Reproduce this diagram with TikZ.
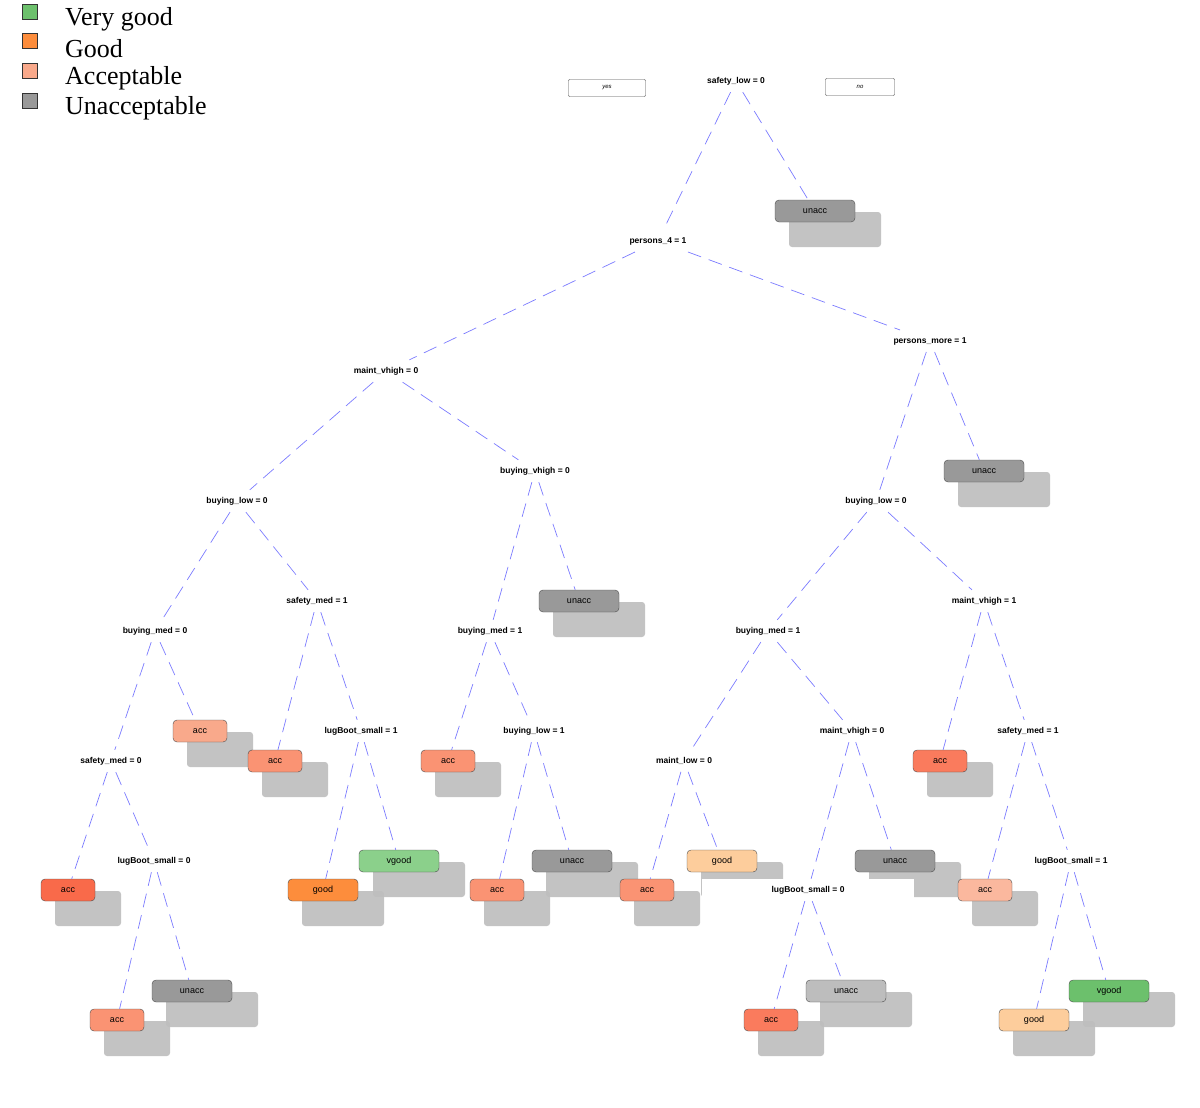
\documentclass[tikz,border=0pt]{standalone}
\usepackage{fontspec}
\setsansfont{Liberation Sans}
\setmainfont{Liberation Serif}
\definecolor{edgec}{HTML}{7B7BFF}
\definecolor{shad}{HTML}{BDBDBD}
\definecolor{cacc}{HTML}{FA9373}
\definecolor{caccl}{HTML}{F9A98B}
\definecolor{caccd}{HTML}{F96A4A}
\definecolor{caccm}{HTML}{FA7B5D}
\definecolor{caccp}{HTML}{FBB89E}
\definecolor{cun}{HTML}{999999}
\definecolor{cunl}{HTML}{BDBDBD}
\definecolor{cgood}{HTML}{FD8D3C}
\definecolor{cgoodl}{HTML}{FDCD9C}
\definecolor{cvg}{HTML}{8BD08B}
\definecolor{cvgd}{HTML}{6CC06C}
\tikzset{
 split/.style={font=\sffamily\bfseries\fontsize{8.5}{10}\selectfont, inner sep=7pt, fill=white},
 leafbox/.style={draw=black!70, rounded corners=4pt, minimum height=22pt, font=\sffamily\fontsize{9}{10}\selectfont, inner sep=0pt},
 edge/.style={draw=edgec, dash pattern=on 14pt off 8pt, line width=0.7pt},
 legsq/.style={draw=black!80, line width=1pt, minimum size=15pt, inner sep=0pt},
 legtx/.style={font=\fontsize{26}{28}\selectfont, anchor=west, inner sep=0pt}
}
\newcommand\leaf[6]{% name x y text color width
 \fill[shad, opacity=0.9, rounded corners=3pt] (#2-#6/2+14,#3+1) rectangle (#2+#6/2+26,#3+36);
 \node[leafbox, fill=#5, minimum width=#6pt] (#1) at (#2,#3) {#4};}
\begin{document}
\begin{tikzpicture}[x=1pt,y=-1pt]
\useasboundingbox (0,0) rectangle (1200,1108);
% legend
\node[legsq, fill=cvgd] (l1) at (30,12) {}; \node[legtx] (t1) at (65,19) {Very good};
\node[legsq, fill=cgood] (l2) at (30,41) {}; \node[legtx] (t2) at (65,49) {Good};
\node[legsq, fill=caccl] (l3) at (30,71) {}; \node[legtx] (t3) at (65,78) {Acceptable};
\node[legsq, fill=cun] (l4) at (30,101) {}; \node[legtx] (t4) at (65,108) {Unacceptable};
% yes / no
\node[draw=black!70, rounded corners=1pt, minimum width=77pt, minimum height=17pt, font=\sffamily\itshape\fontsize{6}{7}\selectfont] (yes) at (607,88) {yes};
\node[draw=black!70, rounded corners=1pt, minimum width=69pt, minimum height=17pt, font=\sffamily\itshape\fontsize{6}{7}\selectfont] (no) at (860,87) {no};
% leaves (with shadows)
\leaf{u1}{815}{211}{unacc}{cun}{80}
\leaf{u2}{984}{471}{unacc}{cun}{80}
\leaf{u3}{579}{601}{unacc}{cun}{80}
\leaf{a1}{200}{731}{acc}{caccl}{54}
\leaf{a2}{275}{761}{acc}{cacc}{54}
\leaf{a3}{448}{761}{acc}{cacc}{54}
\leaf{a4}{940}{761}{acc}{caccm}{54}
\leaf{v1}{399}{861}{vgood}{cvg}{80}
\leaf{u4}{572}{861}{unacc}{cun}{80}
\leaf{g1}{722}{861}{good}{cgoodl}{70}
\leaf{u5}{895}{861}{unacc}{cun}{80}
\leaf{a5}{68}{890}{acc}{caccd}{54}
\leaf{g2}{323}{890}{good}{cgood}{70}
\leaf{a6}{497}{890}{acc}{cacc}{54}
\leaf{a7}{647}{890}{acc}{cacc}{54}
\leaf{a8}{985}{890}{acc}{caccp}{54}
\leaf{u6}{192}{991}{unacc}{cun}{80}
\leaf{u7}{846}{991}{unacc}{cunl}{80}
\leaf{v2}{1109}{991}{vgood}{cvgd}{80}
\leaf{a9}{117}{1020}{acc}{cacc}{54}
\leaf{a10}{771}{1020}{acc}{caccm}{54}
\leaf{g3}{1034}{1020}{good}{cgoodl}{70}
% splits
\node[split] (s1) at (736,81) {safety\_low = 0};
\node[split] (s2) at (658,241) {persons\_4 = 1};
\node[split] (s3) at (930,341) {persons\_more = 1};
\node[split] (s4) at (386,371) {maint\_vhigh = 0};
\node[split] (s5) at (535,471) {buying\_vhigh = 0};
\node[split] (s6) at (237,501) {buying\_low = 0};
\node[split] (s7) at (876,501) {buying\_low = 0};
\node[split] (s8) at (317,601) {safety\_med = 1};
\node[split] (s9) at (984,601) {maint\_vhigh = 1};
\node[split] (s10) at (155,631) {buying\_med = 0};
\node[split, minimum width=95pt] (s11) at (490,631) {buying\_med = 1};
\node[split] (s12) at (768,631) {buying\_med = 1};
\node[split] (s13) at (361,731) {lugBoot\_small = 1};
\node[split] (s14) at (534,731) {buying\_low = 1};
\node[split] (s15) at (852,731) {maint\_vhigh = 0};
\node[split] (s16) at (1028,731) {safety\_med = 1};
\node[split, minimum width=95pt] (s17) at (111,761) {safety\_med = 0};
\node[split] (s18) at (684,761) {maint\_low = 0};
\node[split] (s19) at (154,861) {lugBoot\_small = 0};
\node[split] (s20) at (1071,861) {lugBoot\_small = 1};
\node[split, minimum width=212pt] (s21) at (808,890) {lugBoot\_small = 0};
% edges
\foreach \p/\c in {s1/s2,s1/u1,s2/s4,s2/s3,s3/s7,s3/u2,s4/s6,s4/s5,s5/s11,s5/u3,
 s6/s10,s6/s8,s10/s17,s10/a1,s17/a5,s17/s19,s19/a9,s19/u6,s8/a2,s8/s13,s13/g2,s13/v1,
 s11/a3,s11/s14,s14/a6,s14/u4,s7/s12,s7/s9,s12/s18,s12/s15,s18/a7,s18/g1,s15/s21,s15/u5,
 s21/a10,s21/u7,s9/a4,s9/s16,s16/a8,s16/s20,s20/g3,s20/v2}
 \draw[edge] (\p) -- (\c);
\end{tikzpicture}
\end{document}
